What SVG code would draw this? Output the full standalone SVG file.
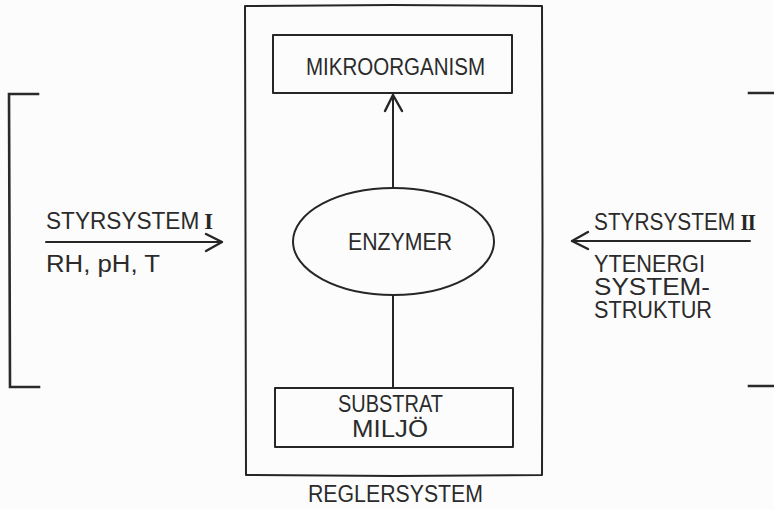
<svg xmlns="http://www.w3.org/2000/svg" width="774" height="510" viewBox="0 0 774 510">
  <style>
    .ink { fill: none; stroke: #262626; stroke-width: 2; stroke-linecap: round; stroke-linejoin: round; }
    .bracket { fill: none; stroke: #2a2a2a; stroke-width: 2.6; stroke-linecap: square; }
    .lbl { font-family: "Liberation Sans", "DejaVu Sans", sans-serif; font-size: 23px; fill: #2b2b2b; }
    .num { font-family: "Liberation Serif", "DejaVu Serif", serif; font-size: 23px; font-weight: bold; fill: #262626; }
  </style>
  <defs>
    <marker id="head" markerUnits="userSpaceOnUse" markerWidth="30" markerHeight="30" refX="0" refY="0" viewBox="-20 -15 30 30" orient="auto">
      <path d="M-16,-8 L0,0 L-16,9" fill="none" stroke="#262626" stroke-width="2.4" stroke-linecap="round" stroke-linejoin="round"/>
    </marker>
  </defs>

  <rect width="774" height="510" fill="#fcfcfc"/>

  <!-- control system frame -->
  <g id="reglersystem">
    <path class="ink" d="M245,6 L392,5 L542,6 L542.5,240 L542,475 L395,476 L246,475 L245.5,240 Z"/>
    <text class="lbl" x="308" y="502" font-size="21" textLength="175" lengthAdjust="spacingAndGlyphs">REGLERSYSTEM</text>
  </g>

  <g id="mikroorganism">
    <path class="ink" d="M273,35 L512,35 L512,93 L273,93 Z"/>
    <text class="lbl" x="306" y="75" font-size="24" textLength="179" lengthAdjust="spacingAndGlyphs">MIKROORGANISM</text>
  </g>

  <g id="enzymer">
    <ellipse class="ink" cx="393.5" cy="241.5" rx="100.5" ry="53.5"/>
    <text class="lbl" x="348" y="250" textLength="104" lengthAdjust="spacingAndGlyphs">ENZYMER</text>
  </g>

  <g id="substrat">
    <path class="ink" d="M275,388 L513,388 L513,447 L275,447 Z"/>
    <text class="lbl" x="338" y="412" textLength="105" lengthAdjust="spacingAndGlyphs">SUBSTRAT</text>
    <text class="lbl" x="352" y="437" textLength="76" lengthAdjust="spacingAndGlyphs">MILJÖ</text>
  </g>

  <g id="styrsystem-1">
    <path class="bracket" d="M38,94 L9,94 L10,387 L39,387"/>
    <text class="lbl" x="46" y="229" font-size="22" textLength="167" lengthAdjust="spacingAndGlyphs">STYRSYSTEM<tspan class="num" dx="5">I</tspan></text>
    <text class="lbl" x="46" y="272" font-size="22" textLength="114" lengthAdjust="spacingAndGlyphs">RH, pH, T</text>
  </g>

  <g id="styrsystem-2">
    <path class="bracket" d="M749,93 L776,93 M749,386 L776,386"/>
    <text class="lbl" x="594" y="230" font-size="19" textLength="161" lengthAdjust="spacingAndGlyphs">STYRSYSTEM<tspan class="num" dx="6" font-size="23" letter-spacing="-1">II</tspan></text>
    <text class="lbl" x="594" y="272" font-size="17.5" textLength="111" lengthAdjust="spacingAndGlyphs">YTENERGI</text>
    <text class="lbl" x="594" y="295" font-size="17.5" textLength="116" lengthAdjust="spacingAndGlyphs">SYSTEM-</text>
    <text class="lbl" x="594" y="318" font-size="17.5" textLength="118" lengthAdjust="spacingAndGlyphs">STRUKTUR</text>
  </g>

  <g id="connectors">
    <line class="ink" x1="393" y1="188" x2="393" y2="95" marker-end="url(#head)"/>
    <line class="ink" x1="393" y1="295" x2="393" y2="388"/>
    <line class="ink" x1="46" y1="242" x2="222" y2="242" marker-end="url(#head)"/>
    <line class="ink" x1="750" y1="241" x2="572" y2="241" marker-end="url(#head)"/>
  </g>
</svg>
